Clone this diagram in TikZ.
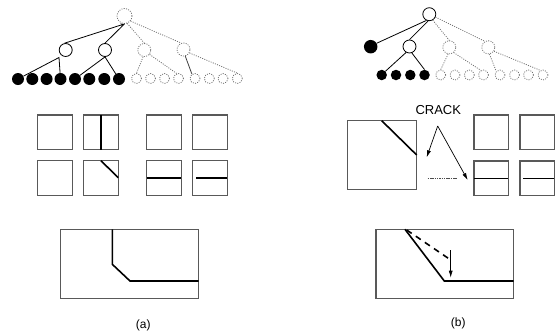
\documentclass[tikz,border=0pt]{standalone}
\usepackage{fontspec}
\setmainfont{Liberation Sans}
\usetikzlibrary{arrows.meta}
\begin{document}
\begin{tikzpicture}[x=1pt,y=-1pt,
  inner/.style={circle,draw,line width=0.8pt,minimum size=13pt,inner sep=0pt,fill=white},
  ghost/.style={circle,draw=black!55,line width=0.8pt,dash pattern=on 1pt off 1.3pt,minimum size=13pt,inner sep=0pt},
  ghostleaf/.style={ghost,minimum size=10pt},
  leafA/.style={circle,fill=black,minimum size=12pt,inner sep=0pt},
  leafB/.style={circle,fill=black,minimum size=10.5pt,inner sep=0pt},
  edge/.style={line width=0.8pt},
  dedge/.style={draw=black!55,line width=0.8pt,dash pattern=on 1pt off 1.3pt},
  cell/.style={draw=black!65,line width=1.1pt},
  crk/.style={line width=1.6pt},
  tip/.style={-{Latex[length=7pt,width=4pt]}},
  lbl/.style={font=\fontsize{12}{14}\selectfont}
]
\useasboundingbox (0,0) rectangle (555,335);

% ---------------- tree (a) ----------------
\node[ghost,minimum size=15pt] (ra) at (124.5,16) {};
\node[inner] (aA) at (65.7,50) {};
\node[inner] (aB) at (105,50) {};
\node[ghost] (aC) at (144.3,50) {};
\node[ghost] (aD) at (183.5,49.5) {};
\foreach \i/\x in {1/18,2/32.3,3/46.6,4/60.5,5/75,6/89.3,7/104.3,8/119}
  \node[leafA] (la\i) at (\x,79) {};
\foreach \i/\x in {9/136.5,10/150.5,11/164.5,12/178.5,13/195,14/209.3,15/223,16/237.3}
  \node[ghostleaf] (la\i) at (\x,78.5) {};
\coordinate (aj) at (59,57.5);
\draw[edge] (la1) -- (aj) -- (la4);
\draw[edge,-{Stealth[length=4pt,width=3pt]}] (aA.100) -- (ra.south);
\draw[edge] (aB.north) -- (ra.south);
\draw[edge] (aB.south) -- (la5);
\draw[edge] (aB.south) -- (la8);
\draw[dedge] (ra.-70) -- (aC.north);
\draw[dedge] (ra.-40) -- (aD.110);
\draw[dedge] (aC.-100) -- (la9.north);
\draw[dedge] (aC.-40) -- (la12.110);
\draw[edge,black!75] (aD.-75) -- (la13.125);
\draw[dedge] (aD.-30) -- (la16.north);

% ---------------- tree (b) ----------------
\node[inner] (rb) at (429.3,14.2) {};
\node[leafB,minimum size=13.5pt] (bA) at (370.7,46.7) {};
\node[inner] (bB) at (409.5,46.5) {};
\node[ghost] (bC) at (449.3,47.3) {};
\node[ghost] (bD) at (488.3,47.3) {};
\foreach \i/\x in {1/381.7,2/396,3/410.3,4/424.5}
  \node[leafB] (lb\i) at (\x,75) {};
\foreach \i/\x in {5/440.7,6/455,7/469.3,8/483.5,9/500,10/514.5,11/528.5,12/543}
  \node[ghostleaf] (lb\i) at (\x,75) {};
\draw[edge] (bA.30) -- (rb.-115);
\draw[edge] (bB.north) -- (rb.-100);
\draw[edge] (bB.-120) -- (lb1.45);
\draw[edge] (bB.-70) -- (lb4.north);
\draw[dedge] (rb.-60) -- (bC.north);
\draw[dedge] (rb.-25) -- (bD.120);
\draw[dedge] (bC.-100) -- (lb5.north);
\draw[dedge] (bC.-50) -- (lb8.120);
\draw[dedge] (bD.-80) -- (lb9.135);
\draw[dedge] (bD.-35) -- (lb12.120);

% ---------------- cells (a) ----------------
\foreach \x in {37.7,83.7,146.7,192.7}
  \foreach \y in {115,160.7}
    \draw[cell] (\x,\y) rectangle ++(34.5,34.5);
\draw[crk] (100.7,115) -- (100.7,149.5);
\draw[crk] (101,160.7) -- (118.2,177.7);
\draw[crk] (146.7,177.7) -- (181.2,177.7);
\draw[crk] (196,177.7) -- (227.2,177.7);

% ---------------- cells (b) ----------------
\draw[cell] (347.5,120.7) rectangle (416.7,189.3);
\draw[crk] (381.7,120.7) -- (416.7,155);
\foreach \x in {474,520}
  \foreach \y in {115,161}
    \draw[cell] (\x,\y) rectangle ++(34.3,34.3);
\draw[crk] (474,178.3) -- (508.3,178.3);
\draw[crk] (523,178.3) -- (554.3,178.3);
\draw[black!70,line width=0.6pt,dash pattern=on 1.5pt off 0.8pt] (427.7,178.3) -- (456.7,178.3);

\node[font=\fontsize{13}{15}\selectfont] (crack) at (438.3,110) {CRACK};
\coordinate (apex) at (437.7,126);
\coordinate (hitA) at (426.7,157.3);
\coordinate (hitB) at (467.7,180);
\draw[line width=0.7pt,tip] (apex) -- (hitA);
\draw[line width=0.7pt,tip] (apex) -- (hitB);

% ---------------- crack fronts ----------------
\draw[cell] (60.7,229.3) rectangle (198.7,298.3);
\draw[crk] (112.3,229.3) -- (112.3,264.3) -- (130,281) -- (198.7,281);

\draw[cell] (376,229.3) rectangle (513.7,298.3);
\draw[crk] (405,229.3) -- (444.3,281) -- (513.7,281);
\draw[crk,dash pattern=on 6pt off 5pt] (406.7,230) -- (448.3,258.3);
\coordinate (dropA) at (450.7,250);
\coordinate (dropB) at (450.7,277.7);
\draw[line width=0.7pt,tip] (dropA) -- (dropB);

\node[lbl] (capa) at (143.3,325) {(a)};
\node[lbl] (capb) at (458.3,323.5) {(b)};
\end{tikzpicture}
\end{document}
